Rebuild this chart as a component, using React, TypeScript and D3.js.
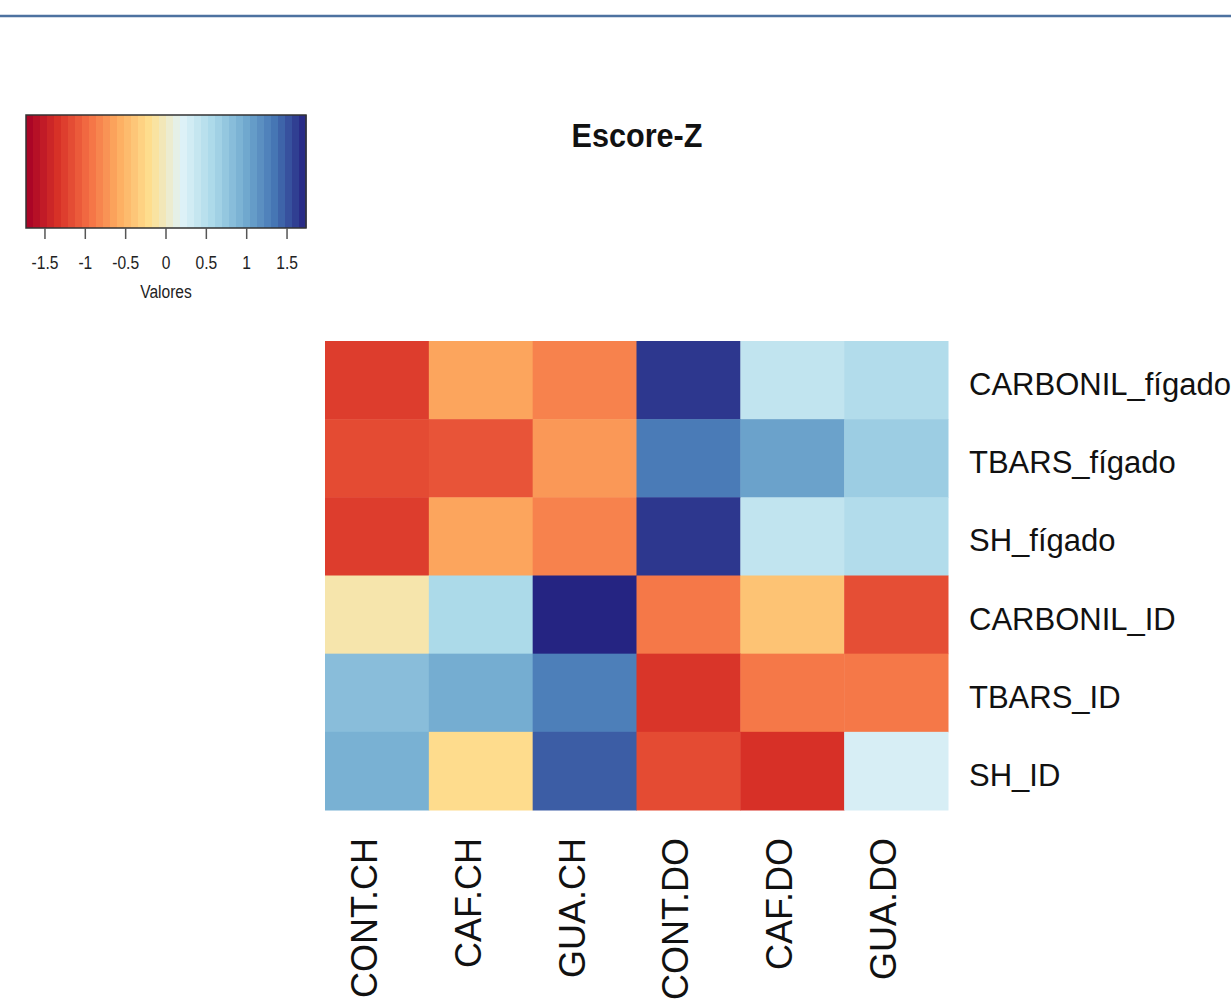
import React from "react";
import * as d3 from "d3";

const rowLabels = [
  "CARBONIL_fígado",
  "TBARS_fígado",
  "SH_fígado",
  "CARBONIL_ID",
  "TBARS_ID",
  "SH_ID",
];
const colLabels = ["CONT.CH", "CAF.CH", "GUA.CH", "CONT.DO", "CAF.DO", "GUA.DO"];

// z-scores, one row per variable, columns follow colLabels
const zCarbonilFigado = [-1.27, -0.63, -0.84, 1.64, 0.42, 0.53];
const zTbarsFigado = [-1.18, -1.12, -0.71, 1.31, 1.04, 0.68];
const zShFigado = [-1.27, -0.63, -0.84, 1.64, 0.42, 0.53];
const zCarbonilId = [-0.09, 0.57, 1.73, -0.9, -0.42, -1.16];
const zTbarsId = [0.82, 0.96, 1.28, -1.32, -0.9, -0.9];
const zShId = [0.93, -0.22, 1.46, -1.18, -1.35, 0.26];

const legendTicks = [-1.5, -1, -0.5, 0, 0.5, 1, 1.5];
const zMin = -1.735;
const zMax = 1.735;

// RdYlBu, 10 classes (no neutral yellow), low = red
const palette = [
  "#a50026", "#d73027", "#f46d43", "#fdae61", "#fee090",
  "#e0f3f8", "#abd9e9", "#74add1", "#4575b4", "#252381",
];

const W = 1231;
const H = 1001;

export default function App() {
  const rows = [zCarbonilFigado, zTbarsFigado, zShFigado, zCarbonilId, zTbarsId, zShId];

  const color = d3
    .scaleLinear<string>()
    .domain(palette.map((_, i) => zMin + ((zMax - zMin) * i) / (palette.length - 1)))
    .range(palette)
    .interpolate(d3.interpolateRgb)
    .clamp(true);

  const x = d3.scaleBand<string>().domain(colLabels).range([325, 948]);
  const y = d3.scaleBand<string>().domain(rowLabels).range([341, 810]);

  // colour key
  const kx = d3.scaleLinear().domain([zMin, zMax]).range([26, 306]);
  const keyTop = 115;
  const keyBottom = 228;
  const nSteps = 40;
  const steps = d3.range(0, nSteps).map((i) => zMin + ((zMax - zMin) * (i + 0.5)) / nSteps);
  const stepW = (kx(zMax) - kx(zMin)) / nSteps;

  return (
    <svg
      width={W}
      height={H}
      style={{ position: "fixed", left: 0, top: 0, background: "#fff" }}
      fontFamily="'Liberation Sans', Arial, sans-serif"
    >
      <rect x={0} y={0} width={W} height={H} fill="#fff" />
      <line x1={0} x2={W} y1={16} y2={16} stroke="#4d72a0" strokeWidth={2.5} />

      {/* colour key */}
      <g>
        {steps.map((v, i) => (
          <rect
            key={i}
            x={kx(zMin) + i * stepW}
            y={keyTop}
            width={stepW + 0.6}
            height={keyBottom - keyTop}
            fill={color(v)}
          />
        ))}
        <rect
          x={kx(zMin)}
          y={keyTop}
          width={kx(zMax) - kx(zMin)}
          height={keyBottom - keyTop}
          fill="none"
          stroke="#333"
          strokeWidth={1.5}
        />
        {legendTicks.map((t) => (
          <g key={t}>
            <line x1={kx(t)} x2={kx(t)} y1={keyBottom} y2={keyBottom + 11} stroke="#555" strokeWidth={1.5} />
            <text
              transform={`translate(${kx(t)},${269}) scale(0.82,1)`}
              textAnchor="middle"
              fontSize={19}
              fill="#222"
            >
              {t}
            </text>
          </g>
        ))}
        <text transform={`translate(${kx(0)},${298}) scale(0.82,1)`} textAnchor="middle" fontSize={19} fill="#222">
          Valores
        </text>
      </g>

      {/* title */}
      <text
        transform={`translate(637,147) scale(0.9,1)`}
        textAnchor="middle"
        fontSize={34}
        fontWeight="bold"
        fill="#111"
      >
        Escore-Z
      </text>

      {/* heatmap cells */}
      <g>
        {rows.map((vals, r) =>
          vals.map((v, c) => (
            <rect
              key={`${r}-${c}`}
              x={x(colLabels[c])!}
              y={y(rowLabels[r])!}
              width={x.bandwidth() + 0.5}
              height={y.bandwidth() + 0.5}
              fill={color(v)}
            />
          ))
        )}
      </g>

      {/* row labels */}
      {rowLabels.map((lab) => (
        <text key={lab} x={969} y={y(lab)! + y.bandwidth() / 2 + 15} fontSize={31} fill="#111">
          {lab}
        </text>
      ))}

      {/* column labels */}
      {colLabels.map((lab) => {
        const cx = x(lab)! + x.bandwidth() / 2;
        return (
          <text
            key={lab}
            transform={`translate(${cx},838) rotate(-90)`}
            textAnchor="end"
            fontSize={36}
            fill="#111"
          >
            {lab}
          </text>
        );
      })}
    </svg>
  );
}
